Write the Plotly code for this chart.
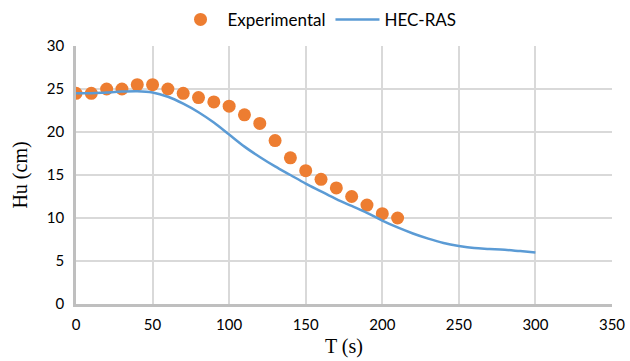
import plotly.graph_objects as go

exp_t = [0, 10, 20, 30, 40, 50, 60, 70, 80, 90, 100, 110, 120, 130, 140, 150, 160, 170, 180, 190, 200, 210]
exp_hu = [24.5, 24.5, 25.0, 25.0, 25.5, 25.5, 25.0, 24.5, 24.0, 23.5, 23.0, 22.0, 21.0, 19.0, 17.0, 15.5, 14.5, 13.5, 12.5, 11.5, 10.5, 10.0]

ras_t = [0, 10, 20, 30, 40, 50, 60, 70, 80, 90, 100, 110, 120, 130, 140, 150, 160, 170, 180, 190, 200,
         210, 220, 230, 240, 250, 260, 270, 280, 290, 300]
ras_hu = [24.5, 24.5, 24.6, 24.7, 24.75, 24.6, 24.1, 23.3, 22.3, 21.1, 19.7, 18.3, 17.1, 16.0, 15.0, 14.0, 13.1,
          12.2, 11.4, 10.6, 9.7, 8.9, 8.2, 7.6, 7.1, 6.75, 6.5, 6.4, 6.3, 6.15, 6.0]

fig = go.Figure()
fig.add_trace(go.Scatter(x=exp_t, y=exp_hu, mode="markers", name="Experimental",
                         marker=dict(color="#ED7D31", size=13)))
fig.add_trace(go.Scatter(x=ras_t, y=ras_hu, mode="lines", name="HEC-RAS",
                         line=dict(color="#5B9BD5", width=2.5, shape="spline")))

tick_font = dict(family="Lato, Open Sans, sans-serif", size=15, color="#000000")
title_font = dict(family="Liberation Serif, Times New Roman, serif", size=20, color="#000000")

fig.update_layout(
    width=630, height=361,
    margin=dict(l=76, r=18, t=46, b=57, autoexpand=False),
    paper_bgcolor="white", plot_bgcolor="white",
    legend=dict(orientation="h", x=0.504, xanchor="center", xref="container",
                y=0.945, yanchor="middle", yref="container",
                font=dict(family="Lato, Open Sans, sans-serif", size=17, color="#000000"),
                traceorder="normal", itemwidth=44),
    xaxis=dict(range=[0, 350], tickvals=[0, 50, 100, 150, 200, 250, 300, 350],
               showgrid=True, gridcolor="#D9D9D9", gridwidth=1.5,
               showline=True, linecolor="#BFBFBF", linewidth=2.5, zeroline=False,
               ticks="", tickfont=tick_font, ticklabelstandoff=5, automargin=False,
               title=dict(text="T (s)", font=title_font, standoff=8)),
    yaxis=dict(range=[0, 30], tickvals=[0, 5, 10, 15, 20, 25, 30],
               showgrid=True, gridcolor="#D9D9D9", gridwidth=1.5,
               showline=True, linecolor="#BFBFBF", linewidth=2.5, zeroline=False,
               ticks="", tickfont=tick_font, ticklabelstandoff=6, automargin=False,
               title=dict(text="Hu (cm)", font=title_font, standoff=14)),
)

fig.write_html("out.html")
